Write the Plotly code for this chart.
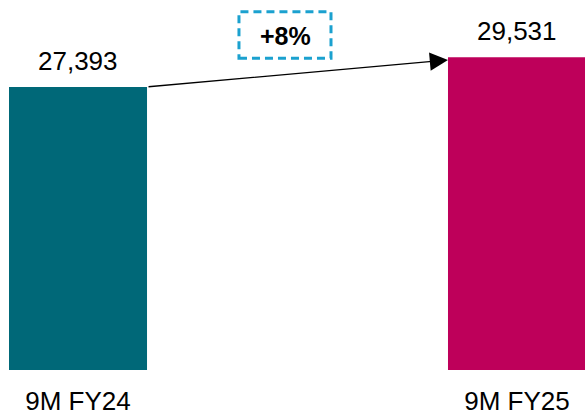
import plotly.graph_objects as go

# Period labels and values
categories = ["9M FY24", "9M FY25"]
values = [27393, 29531]
value_labels = ["27,393", "29,531"]
growth_label = "+8%"
bar_colors = ["#006878", "#BE005A"]

FONT = "Arial, Liberation Sans, sans-serif"
bar_width = 0.3144
x_pos = [0, 1]

fig = go.Figure()
fig.add_trace(go.Bar(
    x=x_pos, y=values, width=bar_width,
    marker=dict(color=bar_colors, line=dict(width=0)),
    hoverinfo="skip", showlegend=False,
))

# Value labels above the bars
for xi, v, lab in zip(x_pos, values, value_labels):
    fig.add_annotation(x=xi, y=v, text=lab, showarrow=False,
                       xref="x", yref="y", yanchor="middle", xanchor="center",
                       yshift=26,
                       font=dict(family=FONT, size=26, color="#000000"))

# Growth arrow from the top of the first bar to the second
fig.add_annotation(
    x=x_pos[1] - bar_width / 2, y=values[1] - 200,
    ax=x_pos[0] + bar_width / 2, ay=values[0],
    xref="x", yref="y", axref="x", ayref="y",
    text="", showarrow=True, arrowhead=2, arrowsize=2.8,
    arrowwidth=1.3, arrowcolor="#000000", standoff=0,
)

# Dashed box with the growth figure
fig.add_shape(type="rect", xref="paper", yref="paper",
              x0=0.4085, x1=0.5658, y0=0.8425, y1=0.968,
              line=dict(color="#1BA1CF", width=3, dash="8px,5px"),
              fillcolor="rgba(0,0,0,0)")
fig.add_annotation(xref="paper", yref="paper", x=0.4872, y=0.902,
                   xanchor="center", yanchor="middle",
                   text="<b>" + growth_label + "</b>", showarrow=False,
                   font=dict(family=FONT, size=25, color="#000000"))

fig.update_layout(
    width=585, height=416,
    margin=dict(l=0, r=0, t=0, b=41.3),
    paper_bgcolor="white", plot_bgcolor="white",
    xaxis=dict(range=[-0.1777, 1.1549], tickvals=x_pos, ticktext=categories,
               showgrid=False, zeroline=False, showline=False, ticks="",
               ticklabelstandoff=13,
               tickfont=dict(family=FONT, size=26, color="#000000")),
    yaxis=dict(range=[6961, 33664], visible=False, showgrid=False),
)

fig.write_html("out.html")
